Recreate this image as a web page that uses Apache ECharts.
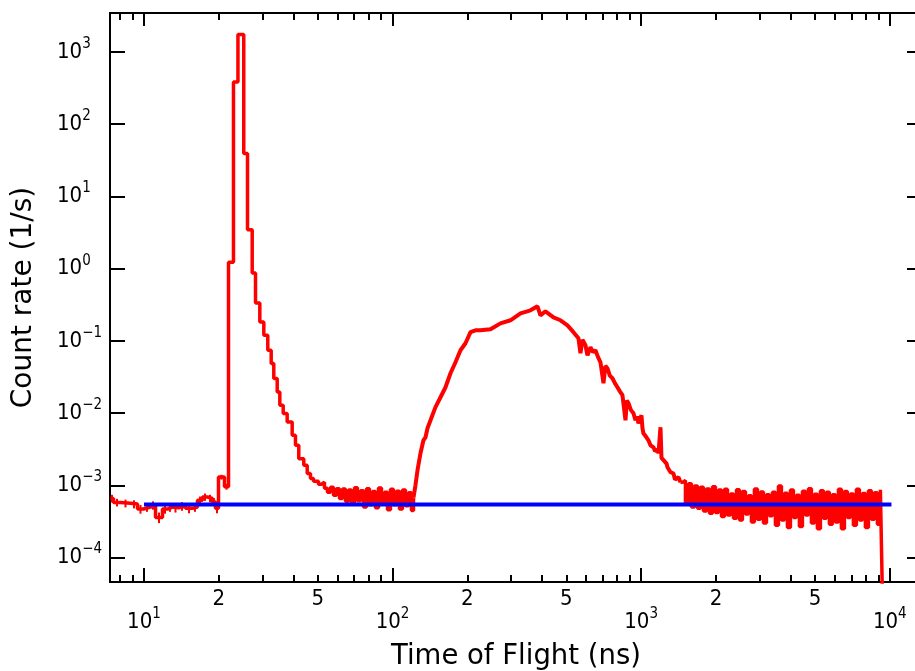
<!DOCTYPE html>
<html>
<head>
<meta charset="utf-8">
<script src="https://cdn.jsdelivr.net/npm/echarts@6/dist/echarts.min.js"></script>
<style>
html,body{margin:0;padding:0;background:#fff;}
#chart{width:915px;height:671px;}
</style>
</head>
<body>
<div id="chart"></div>
<script>
// ---- data (time of flight in ns, count rate in 1/s) ----
// coarse histogram part (step) incl. noisy valley
const tofStep = [7.33, 7.54, 8.05, 8.82, 9.42, 9.95, 10.62, 11.13, 11.87, 12.43, 13.02, 13.77, 14.69, 15.67, 16.41, 17.19, 18.01, 18.86, 19.39, 19.94, 21.08, 21.88, 22.91, 23.88, 25.20, 26.09, 27.25, 28.10, 29.24, 30.34, 31.48, 32.49, 33.28, 34.35, 35.19, 36.31, 37.67, 39.46, 40.68, 41.95, 43.94, 45.35, 46.74, 48.1,
  48.96, 50.34, 51.76, 53.22, 54.71, 56.26, 57.85, 59.47, 61.15, 62.87, 64.65, 66.46, 68.34, 70.26, 72.24, 74.28, 76.38, 78.52, 80.74, 83.02, 85.35, 87.77, 90.24, 92.77, 95.39, 98.08, 100.8, 103.7, 106.6, 109.6, 112.7, 115.9, 119.1, 121.4];
const rateStep = [6.6e-4, 5.8e-4, 5.65e-4, 5.5e-4, 4.7e-4, 5.0e-4, 5.3e-4, 3.6e-4, 4.7e-4, 5.0e-4, 4.9e-4, 5.15e-4, 4.8e-4, 5.0e-4, 6.2e-4, 6.9e-4, 6.6e-4, 5.9e-4, 4.8e-4, 1.3e-3, 9.6e-4, 1.226, 385, 1742, 39.2, 3.47, 0.871, 0.335, 0.183, 0.120, 0.0742, 0.0485, 0.0301, 0.0196, 0.01285, 0.00986, 0.00755, 0.00493, 0.00359, 0.00234, 0.0019, 0.00146, 0.00124, 0.00114,
  1.138e-3, 1.035e-3, 1.102e-3, 9.1e-4, 8.0e-4, 9.4e-4, 7.3e-4, 9.0e-4, 6.6e-4, 8.9e-4, 6.0e-4, 8.6e-4, 5.6e-4, 9.3e-4, 6.1e-4, 8.4e-4, 5.0e-4, 9.0e-4, 5.4e-4, 8.2e-4, 4.9e-4, 9.2e-4, 5.7e-4, 8.0e-4, 4.6e-4, 8.8e-4, 5.4e-4, 8.3e-4, 4.7e-4, 8.6e-4, 5.2e-4, 7.9e-4, 4.5e-4, 6.8e-4];
// statistical error of the first (baseline) bins
const errStep = [8e-5, 7e-5, 7e-5, 7e-5, 6.5e-5, 7e-5, 7e-5, 6e-5, 6.5e-5, 7e-5, 7e-5, 7e-5, 7e-5, 7e-5, 8e-5, 8e-5, 8e-5, 7.5e-5, 7e-5, 1.0e-4, 9e-5];
// fine-binned second hump
const tofHump = [121.4, 123.6, 126.0, 129.5, 133.1, 135.7, 138.2, 142.1, 148.8, 155.9, 163.3, 171.0, 179.1, 187.6, 196.5, 205.8, 215.6, 225.8, 247.7, 271.6, 298.1, 327.0, 358.7, 382.7, 393.4, 412.1, 443.9, 473.6, 505.3, 534.1, 559.4, 569.9, 580.5, 597.0, 608.1, 625.3, 640.0, 655.0, 670.0, 686.0, 705.3, 718.0, 731.9, 748.0, 766.5, 784.0, 802.8, 821.0, 840.8, 864.8, 876.0, 889.1, 910.0, 931.1, 948.4, 962.0, 975.2, 1003, 1012, 1021, 1035, 1050, 1060, 1070, 1080, 1090, 1105, 1121, 1136, 1152, 1163, 1174, 1196, 1207, 1218, 1235, 1253, 1265, 1276, 1294, 1312, 1330, 1349, 1368, 1387, 1413, 1439];
const rateHump = [6.8e-4, 1.0e-3, 1.62e-3, 2.78e-3, 4.21e-3, 4.63e-3, 6.17e-3, 7.96e-3, 0.0121, 0.0166, 0.0228, 0.0356, 0.0506, 0.0742, 0.0927, 0.132, 0.140, 0.140, 0.145, 0.175, 0.193, 0.241, 0.265, 0.301, 0.226, 0.257, 0.212, 0.193, 0.164, 0.132, 0.109, 0.0675, 0.104, 0.0869, 0.0633, 0.0816, 0.0700, 0.0742, 0.0600, 0.0506, 0.0259, 0.0450, 0.0418, 0.0330, 0.0304, 0.0260, 0.0228, 0.0200, 0.0177, 0.00796, 0.0150, 0.0137, 0.0110, 0.00995, 0.00796, 0.0090, 0.00723, 0.00933, 0.0062, 0.00526, 0.0056, 0.00463, 0.0047, 0.00421, 0.0040, 0.00359, 0.0037, 0.00336, 0.0030, 0.00287, 0.0031, 0.00278, 0.00637, 0.0024, 0.00245, 0.0022, 0.00209, 0.0020, 0.00178, 0.0017, 0.00152, 0.0016, 0.00146, 0.0012, 0.00117, 0.0013, 0.0011];
// noisy flat tail
const tofTail = [1439, 1466, 1507, 1550, 1593, 1638, 1685, 1732, 1781, 1831, 1883, 1936, 1990, 2046, 2104, 2163, 2224, 2287, 2351, 2417, 2485, 2555, 2627, 2701, 2777, 2855, 2936, 3018, 3103, 3191, 3281, 3373, 3468, 3566, 3666, 3769, 3876, 3985, 4097, 4212, 4331, 4453, 4578, 4707, 4840, 4976, 5116, 5261, 5409, 5561, 5718, 5879, 6045, 6215, 6390, 6570, 6755, 6945, 7141, 7342, 7549, 7761, 7980, 8205, 8436, 8673, 8918, 9169, 9340, 9522];
const rateTail = [1.1e-3, 1.17e-3, 5.6e-4, 1.05e-3, 5.0e-4, 9.8e-4, 4.8e-4, 9.4e-4, 4.4e-4, 8.9e-4,
  4.1e-4, 9.6e-4, 4.2e-4, 8.6e-4, 3.7e-4, 8.8e-4, 3.9e-4, 7.6e-4, 3.5e-4, 8.7e-4,
  3.3e-4, 8.2e-4, 4.0e-4, 7.2e-4, 3.1e-4, 8.9e-4, 3.4e-4, 8.1e-4, 3.0e-4, 7.4e-4,
  3.8e-4, 8.0e-4, 2.8e-4, 9.8e-4, 3.3e-4, 7.8e-4, 2.6e-4, 8.6e-4, 3.6e-4, 7.3e-4,
  2.7e-4, 8.3e-4, 3.9e-4, 9.0e-4, 3.0e-4, 7.5e-4, 2.5e-4, 8.4e-4, 3.5e-4, 8.0e-4,
  2.9e-4, 7.4e-4, 3.1e-4, 8.8e-4, 2.5e-4, 8.2e-4, 3.6e-4, 7.6e-4, 2.8e-4, 8.8e-4,
  3.3e-4, 7.7e-4, 2.6e-4, 8.4e-4, 3.4e-4, 7.9e-4, 2.9e-4, 8.7e-4, 3.0e-5, 3.0e-5];
// constant background level (blue)
const bgTof = [10, 10160];
const bgRate = [5.42e-4, 5.42e-4];

// ---- axis ranges and ticks ----
const xRange = [7.30, 13480];
const yRange = [4.59e-5, 3467];
const xDecades = [10, 100, 1000, 10000];
const xMinorTicks = [8, 9, 20, 30, 40, 50, 60, 70, 80, 90, 200, 300, 400, 500, 600, 700, 800, 900, 2000, 3000, 4000, 5000, 6000, 7000, 8000, 9000];
const xMinorLabels = [20, 50, 200, 500, 2000, 5000];
const yDecades = [1e-4, 1e-3, 1e-2, 1e-1, 1, 10, 100, 1000];

const L = Math.log10;
const pairs = (xs, ys) => xs.map((x, i) => [L(x), L(ys[i])]);
const FONT = 'DejaVu Sans';
const TFONT = 'DejaVu Sans Condensed';
const supRich = {
  b: {fontSize: 22, fontFamily: TFONT, color: '#000', lineHeight: 24},
  s: {fontSize: 15, fontFamily: TFONT, color: '#000', lineHeight: 15, padding: [0, 0, 16, 0]}
};
const pow10Label = v => {
  const n = Math.round(v);
  return '{b|10}{s|' + (n < 0 ? '\u2212' + (-n) : n) + '}';
};
const lineBlack = {show: true, onZero: false, lineStyle: {color: '#000', width: 2}};

function xAx(pos, ticks, tickLen, labels, labelFmt, margin) {
  return {
    type: 'value', position: pos, min: L(xRange[0]), max: L(xRange[1]),
    axisLine: lineBlack, splitLine: {show: false},
    axisTick: {show: true, inside: true, length: tickLen, customValues: ticks.map(L), lineStyle: {color: '#000', width: 2}},
    axisLabel: labels ? {show: true, customValues: labels.map(L), formatter: labelFmt, margin: margin,
      rich: supRich, fontSize: 22, fontFamily: TFONT, color: '#000'} : {show: false}
  };
}

const errData = errStep.map((e, i) => {
  const c = Math.sqrt(tofStep[i] * tofStep[i + 1]);
  return [L(c), L(rateStep[i] - e), L(rateStep[i] + e)];
});

const option = {
  animation: false,
  grid: {left: 110, top: 13, width: 812, height: 569, containLabel: false, outerBoundsMode: 'none'},
  xAxis: [
    Object.assign(xAx('bottom', xDecades, 14, xDecades, pow10Label, 28), {
      name: 'Time of Flight (ns)', nameLocation: 'middle', nameGap: 55,
      nameTextStyle: {fontSize: 27.5, fontFamily: FONT, color: '#000'}
    }),
    xAx('bottom', xMinorTicks, 7, xMinorLabels, v => String(Math.round(Math.pow(10, v) / Math.pow(10, Math.floor(v + 1e-9)))), 6),
    xAx('top', xDecades, 13, null),
    xAx('top', xMinorTicks, 7, null)
  ],
  yAxis: [
    {
      type: 'value', position: 'left', min: L(yRange[0]), max: L(yRange[1]),
      axisLine: lineBlack, splitLine: {show: false},
      axisTick: {show: true, inside: true, length: 15, customValues: yDecades.map(L), lineStyle: {color: '#000', width: 2}},
      axisLabel: {show: true, customValues: yDecades.map(L), formatter: pow10Label, rich: supRich, align: 'left', margin: 53},
      name: 'Count rate (1/s)', nameLocation: 'middle', nameGap: 72, nameRotate: 90,
      nameTextStyle: {fontSize: 28, fontFamily: FONT, color: '#000'}
    },
    {
      type: 'value', position: 'right', min: L(yRange[0]), max: L(yRange[1]),
      axisLine: lineBlack, splitLine: {show: false},
      axisTick: {show: true, inside: true, length: 15, customValues: yDecades.map(L), lineStyle: {color: '#000', width: 2}},
      axisLabel: {show: false}
    }
  ],
  series: [
    {type: 'line', step: 'end', data: pairs(tofStep, rateStep), symbol: 'none',
      lineStyle: {color: '#ff0000', width: 3.5}, z: 2},
    {type: 'custom', data: errData, z: 2,
      renderItem: (params, api) => {
        const p1 = api.coord([api.value(0), api.value(1)]);
        const p2 = api.coord([api.value(0), api.value(2)]);
        return {type: 'line', shape: {x1: p1[0], y1: p1[1], x2: p2[0], y2: p2[1]}, style: {stroke: '#ff0000', lineWidth: 2}};
      }},
    {type: 'line', data: pairs(tofHump, rateHump), symbol: 'none',
      lineStyle: {color: '#ff0000', width: 4}, z: 2},
    {type: 'line', step: 'end', data: pairs(tofTail, rateTail), symbol: 'none',
      lineStyle: {color: '#ff0000', width: 3.5}, z: 2},
    {type: 'line', data: pairs(bgTof, bgRate), symbol: 'none',
      lineStyle: {color: '#0000ff', width: 4}, z: 3}
  ]
};
const chart = echarts.init(document.getElementById('chart'), null, {renderer: 'canvas'});
chart.setOption(option);
</script>
</body>
</html>
